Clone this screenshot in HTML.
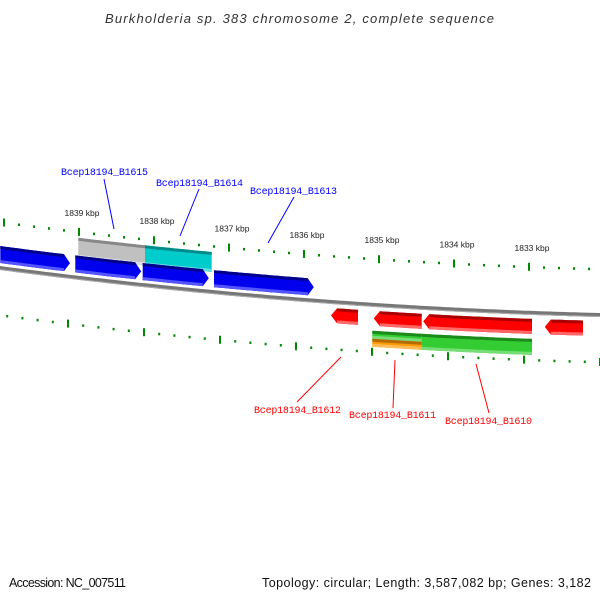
<!DOCTYPE html>
<html><head><meta charset="utf-8"><style>
body{margin:0;background:#fff}
svg{display:block}
.lbl{font-family:"Liberation Mono",monospace;font-size:10px}
.kb{font-family:"Liberation Sans",sans-serif;font-size:8.5px;fill:#222}
</style></head><body>
<svg id="c" width="600" height="600" viewBox="0 0 600 600">
<text x="105" y="23" textLength="389" font-family="Liberation Sans,sans-serif" font-style="italic" font-size="13" fill="#333">Burkholderia sp. 383 chromosome 2, complete sequence</text>
<text x="9" y="587" textLength="117" font-family="Liberation Sans,sans-serif" font-size="12.5" fill="#111">Accession: NC_007511</text>
<text x="262" y="587" textLength="329" font-family="Liberation Sans,sans-serif" font-size="12.5" fill="#111">Topology: circular; Length: 3,587,082 bp; Genes: 3,182</text>
</svg>
<script>
const majorKbp=[1839,1838,1837,1836,1835,1834,1833];
const topStartKbp=1840,topEndKbp=1831.9;
const fwdGenes=[[1840.05,1839.12],[1839.05,1838.17],[1838.15,1837.27],[1837.2,1835.87]];
const fwdFeatures=[[1839.01,1838.12,'gray'],[1838.12,1837.23,'cyan']];
const revGenes=[[1835.64,1835.28],[1835.07,1834.43],[1834.41,1832.96],[1832.79,1832.28]];
const revFeatures=[[1835.09,1834.43,'green-orange'],[1834.43,1832.96,'green']];
const geneLabels=[['Bcep18194_B1615',61,175,104,179,114,229,'#00f'],['Bcep18194_B1614',156,186,199,189,180,236,'#00f'],['Bcep18194_B1613',250,194,294,197,268,243,'#00f'],['Bcep18194_B1612',254,413,341,357,297,402,'#f00'],['Bcep18194_B1611',349,418,395,360,393,408,'#f00'],['Bcep18194_B1610',445,424,476,364,489,413,'#f00']];

const svg=document.getElementById('c');
const NS='http://www.w3.org/2000/svg';
function bb(x){return 268+0.1323*x-9.0e-5*x*x;}
function xs(k){return 79+(1839-k)*75;}
function xb(k){return 68+(1839-k)*76;}
function mk(t,a){const e=document.createElementNS(NS,t);for(const k in a)e.setAttribute(k,a[k]);svg.appendChild(e);return e;}
let d='';for(let x=-5;x<=605;x+=5)d+=(x<0?'M':'L')+x+','+bb(x).toFixed(1);
let p=mk('path',{d:d,stroke:'#777',fill:'none','stroke-width':4});


p=mk('path',{d:d,stroke:'#aaa',fill:'none','stroke-width':1,transform:'translate(0,1.5)'});


function ticks(scale,off,name,labels){
  for(let i=0;i*0.2<=topStartKbp-topEndKbp;i++){
    const k=topStartKbp-i*0.2;const x=scale(k);if(x<0||x>600)continue;
    const y=bb(x)+off;const major=Math.abs(k-Math.round(k))<0.01;
    const r=mk('rect',{x:x-1,y:major?y-4:y-1,width:2,height:major?8:2.5,fill:'#080'});
    
    
  }
  if(labels)majorKbp.forEach(k=>{const x=scale(k);
    const t=mk('text',{x:x+3,y:bb(x)+off-16,'text-anchor':'middle',class:'kb'});t.textContent=k+' kbp';
    
    });
}
ticks(xs,-46,'top-scale',true);
ticks(xb,47,'bottom-scale',false);
function band(x1,x2,o1,o2,dir,fill,dark,light,name){
  const tip=6;let top=[],bot=[];
  const b1=dir<0?x1+tip:x1,b2=dir>0?x2-tip:x2;
  for(let x=b1;x<b2;x+=4){top.push([x,bb(x)+o1]);bot.push([x,bb(x)+o2]);}
  top.push([b2,bb(b2)+o1]);bot.push([b2,bb(b2)+o2]);
  let pts=top.slice();
  if(dir>0)pts.push([x2,bb(x2)+(o1+o2)/2]);
  pts=pts.concat(bot.slice().reverse());
  if(dir<0)pts.push([x1,bb(x1)+(o1+o2)/2]);
  const g=mk('polygon',{points:pts.map(q=>q[0].toFixed(1)+','+q[1].toFixed(1)).join(' '),fill:fill});
  
  
  const s1=top.concat(top.slice().reverse().map(q=>[q[0],q[1]+3]));
  mk('polygon',{points:s1.map(q=>q[0].toFixed(1)+','+q[1].toFixed(1)).join(' '),fill:dark});
  const s2=bot.concat(bot.slice().reverse().map(q=>[q[0],q[1]-3]));
  mk('polygon',{points:s2.map(q=>q[0].toFixed(1)+','+q[1].toFixed(1)).join(' '),fill:light});
}
const fc={gray:['#c0c0c0','#888','#ddd'],cyan:['#00cccc','#008b8b','#66e0e0'],green:['#33cc33','#1a8a1a','#77dd77'],orange:['#ff9900','#b36b00','#ffbb55']};
fwdFeatures.forEach(f=>{const c=fc[f[2]];band(xs(f[0]),xs(f[1]),-40,-20,0,c[0],c[1],c[2],'feature-'+f[2]);});
fwdGenes.forEach(g=>band(xs(g[0]),xs(g[1]),-22,-5,1,'#0000ee','#00008b','#5555ff','forward-gene'));
revGenes.forEach(g=>band(xs(g[0]),xs(g[1]),6,21,-1,'#ff0000','#aa0000','#ff6666','reverse-gene'));
revFeatures.forEach(f=>{
  if(f[2]==='green-orange'){band(xs(f[0]),xs(f[1]),26,34,0,'#33cc33','#1a8a1a','#77dd77','feature-green');
    band(xs(f[0]),xs(f[1]),34,42,0,'#ff9900','#b36b00','#ffbb55','feature-orange');}
  else{const c=fc.green;band(xs(f[0]),xs(f[1]),26,42,0,c[0],c[1],c[2],'feature-green');}
});
geneLabels.forEach(l=>{
  const ln=mk('line',{x1:l[3],y1:l[4],x2:l[5],y2:l[6],stroke:l[7],'stroke-width':1});
  
  
  const t=mk('text',{x:l[1],y:l[2],class:'lbl',fill:l[7],textLength:87});t.textContent=l[0];
  
  
});
</script>
</body></html>
